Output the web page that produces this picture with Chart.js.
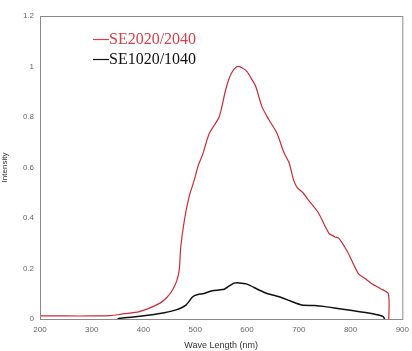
<!DOCTYPE html>
<html>
<head>
<meta charset="utf-8">
<script src="https://cdn.jsdelivr.net/npm/chart.js@4/dist/chart.umd.min.js"></script>
<style>
    html, body { margin: 0; padding: 0; background: #ffffff; }
    #wrap { position: relative; width: 412px; height: 351px; }
</style>
</head>
<body>
<div id="wrap"><canvas id="spectrum" width="412" height="351"></canvas></div>
<script>
const redLabel = "SE2020/2040";
const redX = [200, 250, 300, 335, 360, 392, 431, 445, 456, 464, 469, 472, 479, 488, 498, 506, 514, 527, 546, 559, 569, 581, 590, 600, 609, 617, 629, 642, 658, 671, 681, 690, 697, 708, 719, 738, 758, 770, 777, 793, 805, 815, 828, 841, 858, 873, 874];
const redY = [0.012, 0.012, 0.012, 0.013, 0.02, 0.029, 0.062, 0.085, 0.115, 0.15, 0.194, 0.286, 0.392, 0.484, 0.55, 0.61, 0.65, 0.735, 0.80, 0.91, 0.97, 1.0, 0.995, 0.98, 0.95, 0.92, 0.84, 0.79, 0.735, 0.66, 0.62, 0.55, 0.52, 0.50, 0.47, 0.42, 0.34, 0.325, 0.32, 0.27, 0.22, 0.18, 0.16, 0.14, 0.12, 0.10, 0.0];

const blackLabel = "SE1020/1040";
const blackX = [350, 354, 380, 412, 440, 463, 482, 495, 505, 514, 533, 546, 556, 565, 575, 585, 600, 623, 640, 662, 685, 706, 730, 751, 775, 796, 825, 854, 863, 866];
const blackY = [0.0, 0.003, 0.008, 0.016, 0.025, 0.036, 0.055, 0.088, 0.097, 0.10, 0.112, 0.115, 0.118, 0.13, 0.142, 0.143, 0.138, 0.115, 0.10, 0.088, 0.07, 0.055, 0.053, 0.049, 0.042, 0.036, 0.027, 0.016, 0.009, 0.0];

const xTicks = [200, 300, 400, 500, 600, 700, 800, 900];
const yTicks = [0, 0.2, 0.4, 0.6, 0.8, 1, 1.2];

function toPoints(xs, ys) {
    const pts = [];
    for (let i = 0; i < xs.length; i++) {
        pts.push({ x: xs[i], y: ys[i] });
    }
    return pts;
}

// box round the plot area plus the legend drawn inside it
const framePlugin = {
    id: "frame",
    afterDraw(chart) {
        const ctx = chart.ctx;
        const a = chart.chartArea;
        ctx.save();
        ctx.strokeStyle = "#8a8a8a";
        ctx.lineWidth = 1;
        ctx.strokeRect(a.left + 0.5, a.top + 0.5, a.right - a.left, a.bottom - a.top);

        const entries = [
            { text: redLabel, color: "#d5404a" },
            { text: blackLabel, color: "#111111" }
        ];
        ctx.font = "16px 'Liberation Serif', 'DejaVu Serif', serif";
        ctx.textBaseline = "middle";
        for (let i = 0; i < entries.length; i++) {
            const y = 39 + i * 20;
            ctx.strokeStyle = entries[i].color;
            ctx.lineWidth = 1.2;
            ctx.beginPath();
            ctx.moveTo(93, y + 0.5);
            ctx.lineTo(109, y + 0.5);
            ctx.stroke();
            ctx.fillStyle = entries[i].color;
            ctx.fillText(entries[i].text, 109, y + 1);
        }
        ctx.restore();
    }
};

new Chart(document.getElementById("spectrum"), {
    type: "scatter",
    data: {
        datasets: [
            {
                label: redLabel,
                data: toPoints(redX, redY),
                showLine: true,
                borderColor: "#cc2a36",
                borderWidth: 1.2,
                pointRadius: 0,
                tension: 0.25
            },
            {
                label: blackLabel,
                data: toPoints(blackX, blackY),
                showLine: true,
                borderColor: "#111111",
                borderWidth: 1.5,
                pointRadius: 0,
                tension: 0.2
            }
        ]
    },
    options: {
        responsive: false,
        animation: false,
        layout: { padding: { top: 16, right: 7, left: 0, bottom: 0 } },
        plugins: {
            legend: { display: false },
            tooltip: { enabled: false }
        },
        scales: {
            x: {
                type: "linear",
                min: 200,
                max: 900,
                afterBuildTicks(axis) {
                    axis.ticks = xTicks.map(v => ({ value: v }));
                },
                afterFit(axis) { axis.height = 32; },
                grid: { display: false, drawTicks: true, tickLength: 3, tickColor: "#8a8a8a" },
                border: { display: true, color: "#8a8a8a" },
                ticks: { color: "#666666", font: { family: "Liberation Sans", size: 8 }, padding: 3, maxRotation: 0 },
                title: {
                    display: true,
                    text: "Wave Length (nm)",
                    color: "#333333",
                    font: { family: "Liberation Sans", size: 9 },
                    padding: { top: 2, bottom: 0 }
                }
            },
            y: {
                min: 0,
                max: 1.2,
                afterBuildTicks(axis) {
                    axis.ticks = yTicks.map(v => ({ value: v }));
                },
                afterFit(axis) { axis.width = 40; },
                grid: { display: false, drawTicks: true, tickLength: 3, tickColor: "#8a8a8a" },
                border: { display: true, color: "#8a8a8a" },
                ticks: {
                    color: "#666666",
                    font: { family: "Liberation Sans", size: 8 },
                    padding: 3,
                    callback: v => String(Math.round(v * 10) / 10)
                },
                title: {
                    display: true,
                    text: "Intensity",
                    color: "#333333",
                    font: { family: "Liberation Sans", size: 8 },
                    padding: { top: 0, bottom: 4 }
                }
            }
        }
    },
    plugins: [framePlugin]
});
</script>
</body>
</html>
